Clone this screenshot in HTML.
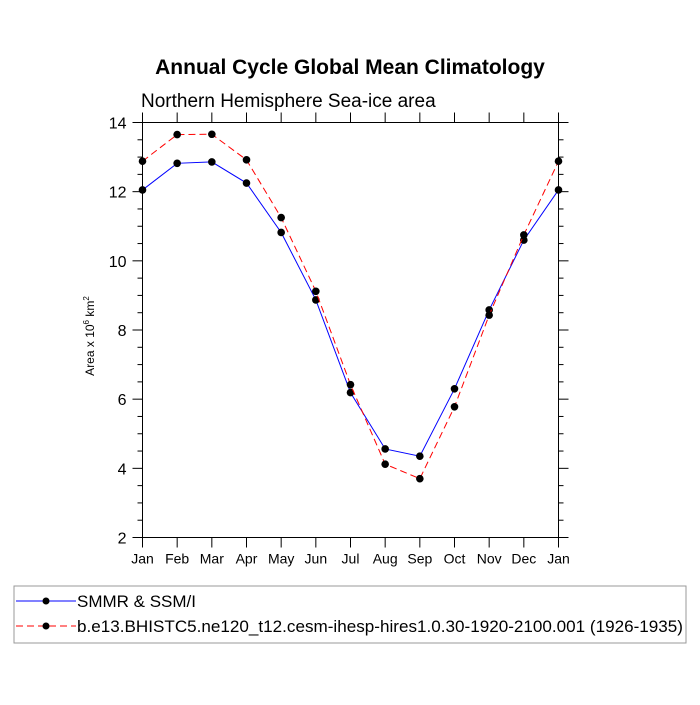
<!DOCTYPE html>
<html><head><meta charset="utf-8"><style>
body{margin:0;background:#fff}
svg text{font-family:"Liberation Sans",sans-serif}
</style></head><body>
<svg id="c" width="700" height="700" xmlns="http://www.w3.org/2000/svg">
<text x="350" y="74" text-anchor="middle" font-size="21" font-weight="bold">Annual Cycle Global Mean Climatology</text>
<text x="141" y="107" font-size="19">Northern Hemisphere Sea-ice area</text>
<text transform="translate(94,336) rotate(-90)" text-anchor="middle" font-size="12">Area x 10<tspan dy="-5" font-size="8">6</tspan><tspan dy="5"> km</tspan><tspan dy="-5" font-size="8">2</tspan></text>
<g id="axes"></g>
<g id="series"></g>
<rect x="14" y="586" width="672" height="57" fill="none" stroke="#999" stroke-width="1"/>
<g>
<line x1="16" y1="601" x2="76" y2="601" stroke="#00f" stroke-width="1"/>
<circle cx="46" cy="601" r="3.5" fill="#000"/>
<text x="77" y="607" font-size="17">SMMR &amp; SSM/I</text></g>
<g>
<line x1="16" y1="626" x2="76" y2="626" stroke="#f00" stroke-width="1" stroke-dasharray="7,4"/>
<circle cx="46" cy="626" r="3.5" fill="#000"/>
<text x="77" y="632" font-size="17" textLength="606" lengthAdjust="spacingAndGlyphs">b.e13.BHISTC5.ne120_t12.cesm-ihesp-hires1.0.30-1920-2100.001 (1926-1935)</text></g>
</svg>
<script>
const months=["Jan","Feb","Mar","Apr","May","Jun","Jul","Aug","Sep","Oct","Nov","Dec","Jan"];
const obsValues=[12.05,12.82,12.86,12.25,10.82,8.87,6.19,4.56,4.35,6.3,8.58,10.6,12.05];
const modelValues=[12.88,13.65,13.66,12.92,11.25,9.12,6.42,4.12,3.7,5.78,8.43,10.75,12.88];
const yTicks=[2,4,6,8,10,12,14];
const NS="http://www.w3.org/2000/svg";
const L=142.5,R=558.5,T=122.5,B=537.5,yMin=2,yMax=14;
const xs=i=>L+(R-L)*i/(months.length-1);
const ys=v=>B-(v-yMin)/(yMax-yMin)*(B-T);
function mk(t,a,p){const e=document.createElementNS(NS,t);for(const k in a)e.setAttribute(k,a[k]);p.appendChild(e);return e;}
const ax=document.getElementById('axes');
const frame=mk('rect',{x:L,y:T,width:R-L,height:B-T,fill:'none',stroke:'#000','stroke-width':1},ax);


months.forEach((m,i)=>{const x=xs(i);
mk('line',{x1:x,y1:B,x2:x,y2:B+10,stroke:'#000'},ax);
mk('line',{x1:x,y1:T,x2:x,y2:T-10,stroke:'#000'},ax);
const t=mk('text',{x:x,y:B+26,'text-anchor':'middle','font-size':14},ax);t.textContent=m;

});
for(let v=yMin;v<=yMax;v+=0.5){const y=ys(v),maj=yTicks.includes(v);const len=maj?10:5;
mk('line',{x1:L,y1:y,x2:L-len,y2:y,stroke:'#000'},ax);
mk('line',{x1:R,y1:y,x2:R+len,y2:y,stroke:'#000'},ax);}
yTicks.forEach(v=>{const t=mk('text',{x:L-16,y:ys(v)+6,'text-anchor':'end','font-size':16},ax);t.textContent=v;

});
const sg=document.getElementById('series');
function series(vals,color,dash,name){
const g=mk('g',{},sg);


mk('polyline',{points:vals.map((v,i)=>xs(i)+','+ys(v)).join(' '),fill:'none',stroke:color,'stroke-width':1,'stroke-dasharray':dash},g);
vals.forEach((v,i)=>{const c=mk('circle',{cx:xs(i),cy:ys(v),r:3.8,fill:'#000'},g);

});}
series(obsValues,'#00f','none','series-smmr');
series(modelValues,'#f00','7,4','series-model');
</script>
</body></html>
